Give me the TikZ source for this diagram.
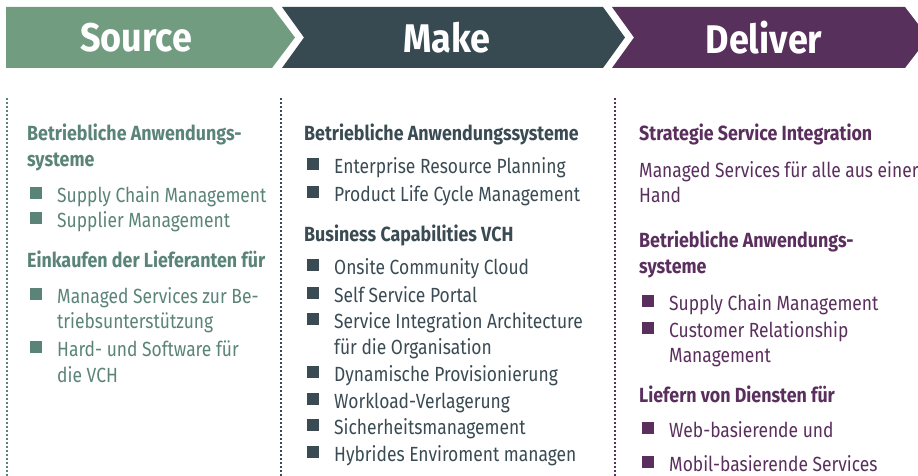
\documentclass[tikz,border=0pt]{standalone}
\usepackage{fontspec}
\setmainfont{Fira Sans}[FakeStretch=0.85]
\newfontfamily\hdfont{Fira Sans}[FakeStretch=0.9]
\newfontfamily\subfont{Fira Sans}[FakeStretch=0.87]
\definecolor{srcfill}{HTML}{729C80}
\definecolor{makefill}{HTML}{374A52}
\definecolor{delfill}{HTML}{58305C}
\definecolor{srctext}{HTML}{5A8478}
\definecolor{maketext}{HTML}{3A4B54}
\definecolor{deltext}{HTML}{5A2F5E}
\tikzset{
  hdr/.style={font=\hdfont\bfseries\fontsize{40}{42}\selectfont, text=white, anchor=center, inner sep=0pt},
  txt/.style={font=\fontsize{20.5}{22}\selectfont, anchor=base west, inner sep=0pt},
  hd/.style={font=\subfont\bfseries\fontsize{20.5}{22}\selectfont, anchor=base west, inner sep=0pt},
  bul/.style={minimum size=12pt, inner sep=0pt, outer sep=0pt, anchor=center},
  sep/.style={line width=1.6pt, dash pattern=on 1.6pt off 2.4pt},
}
\begin{document}
\begin{tikzpicture}[x=1pt,y=-1pt]
\useasboundingbox (0,0) rectangle (918,476);
\fill[white] (0,0) rectangle (918,476);
% header chevrons
\fill[srcfill] (6,7) -- (272,7) -- (295,37.5) -- (272,68) -- (6,68) -- cycle;
\fill[makefill] (282,7) -- (603,7) -- (625,37.5) -- (603,68) -- (282,68) -- (304,37.5) -- cycle;
\fill[delfill] (612,7) -- (905,7) -- (918,24) -- (918,51) -- (905,68) -- (612,68) -- (634,37.5) -- cycle;
\node[hdr] (hsrc) at (136,38) {Source};
\node[hdr] (hmake) at (447,38) {Make};
\node[hdr] (hdel) at (764,38) {Deliver};
% separators
\coordinate (s1t) at (7,98); \coordinate (s1b) at (7,476);
\coordinate (s2t) at (281,98); \coordinate (s2b) at (281,476);
\coordinate (s3t) at (615,98); \coordinate (s3b) at (615,476);
\draw[sep, srctext] (s1t) -- (s1b);
\draw[sep, maketext] (s2t) -- (s2b);
\draw[sep, deltext] (s3t) -- (s3b);
% Source column
\begin{scope}[every node/.append style={text=srctext}]
\node[hd] (sh1) at (27,140) {Betriebliche Anwendungs-};
\node[hd] (sh1b) at (27,166) {systeme};
\node[txt] (s1) at (57,202) {Supply Chain Management};
\node[txt] (s2) at (57,227) {Supplier Management};
\node[hd] (sh2) at (27,267) {Einkaufen der Lieferanten für};
\node[txt] (s3) at (57,303) {Managed Services zur Be-};
\node[txt] (s3b) at (57,328) {triebsunterstützung};
\node[txt] (s4) at (57,356) {Hard- und Software für};
\node[txt] (s4b) at (57,382) {die VCH};
\end{scope}
\foreach \y/\n in {202/a,227/b,303/c,356/d}
  \node[bul, fill=srctext] (sb\n) at (36,\y-9) {};
% Make column
\begin{scope}[every node/.append style={text=maketext}]
\node[hd] (mh1) at (304,140) {Betriebliche Anwendungssysteme};
\node[txt] (m1) at (334,173) {Enterprise Resource Planning};
\node[txt] (m2) at (334,201) {Product Life Cycle Management};
\node[hd] (mh2) at (304,241) {Business Capabilities VCH};
\node[txt] (m3) at (334,274) {Onsite Community Cloud};
\node[txt] (m4) at (334,302) {Self Service Portal};
\node[txt] (m5) at (334,328) {Service Integration Architecture};
\node[txt] (m5b) at (334,354) {für die Organisation};
\node[txt] (m6) at (334,381) {Dynamische Provisionierung};
\node[txt] (m7) at (334,408) {Workload-Verlagerung};
\node[txt] (m8) at (334,434) {Sicherheitsmanagement};
\node[txt] (m9) at (334,461) {Hybrides Enviroment managen};
\end{scope}
\foreach \y/\n in {173/a,201/b,274/c,302/d,328/e,381/f,408/g,434/h,461/i}
  \node[bul, fill=maketext] (mb\n) at (313,\y-9) {};
% Deliver column
\begin{scope}[every node/.append style={text=deltext}]
\node[hd] (dh1) at (639,140) {Strategie Service Integration};
\node[txt] (d0) at (639,177) {Managed Services für alle aus einer};
\node[txt] (d0b) at (639,202) {Hand};
\node[hd] (dh2) at (639,247) {Betriebliche Anwendungs-};
\node[hd] (dh2b) at (639,273) {systeme};
\node[txt] (d1) at (669,310) {Supply Chain Management};
\node[txt] (d2) at (669,337) {Customer Relationship};
\node[txt] (d2b) at (669,362) {Management};
\node[hd] (dh3) at (639,402) {Liefern von Diensten für};
\node[txt] (d3) at (669,437) {Web-basierende und};
\node[txt] (d4) at (669,471) {Mobil-basierende Services};
\end{scope}
\foreach \y/\n in {310/a,337/b,437/c,471/d}
  \node[bul, fill=deltext] (db\n) at (648,\y-9) {};
\end{tikzpicture}
\end{document}
